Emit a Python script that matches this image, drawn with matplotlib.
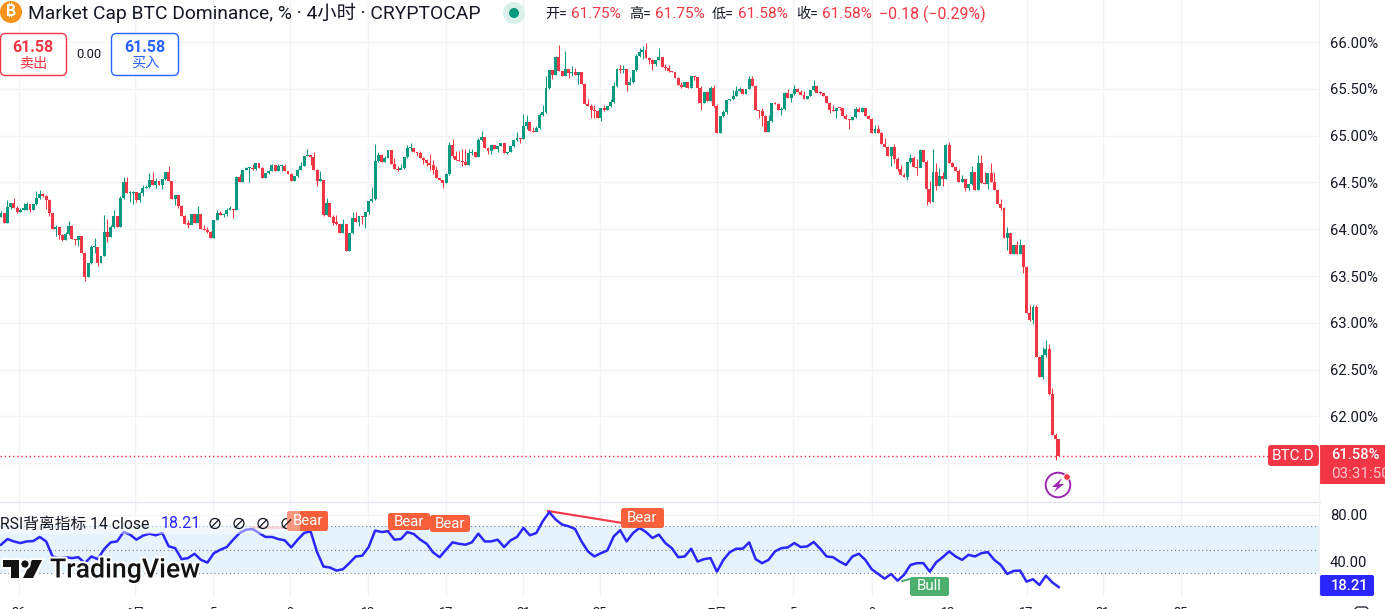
import matplotlib
matplotlib.use('Agg')
import matplotlib.pyplot as plt
from matplotlib.patches import Circle, FancyBboxPatch, Polygon, Rectangle
import matplotlib.patheffects as pe

plt.rcParams['font.family'] = ['Roboto', 'Noto Sans CJK SC', 'DejaVu Sans']

# candles, 4h. open of a candle = close of the one before
first_open = 64.13
closes = [
    64.17, 64.07, 64.24, 64.28, 64.23, 64.18, 64.21, 64.21, 64.27, 64.21, 64.27, 64.33, 64.38, 64.35, 64.31, 64.17,
    64.00, 64.02, 63.94, 63.88, 63.95, 64.03, 63.90, 63.88, 63.93, 63.75, 63.49, 63.64, 63.81, 63.81, 63.64, 63.71,
    63.97, 63.92, 64.02, 64.14, 64.02, 64.33, 64.50, 64.39, 64.39, 64.40, 64.31, 64.39, 64.44, 64.45, 64.53, 64.47,
    64.52, 64.47, 64.54, 64.61, 64.51, 64.32, 64.37, 64.25, 64.14, 64.06, 64.05, 64.16, 64.07, 64.16, 64.00, 63.99,
    63.97, 63.91, 64.10, 64.17, 64.15, 64.16, 64.21, 64.22, 64.20, 64.56, 64.50, 64.63, 64.65, 64.65, 64.64, 64.71,
    64.65, 64.55, 64.60, 64.62, 64.69, 64.62, 64.67, 64.68, 64.62, 64.59, 64.52, 64.57, 64.63, 64.68, 64.78, 64.79,
    64.77, 64.63, 64.52, 64.53, 64.15, 64.28, 64.13, 64.07, 64.06, 63.96, 64.06, 63.77, 63.96,
    64.12, 64.08, 64.14, 64.13, 64.18, 64.30, 64.32, 64.73, 64.79, 64.72, 64.76, 64.85, 64.70, 64.64, 64.63, 64.65,
    64.77, 64.87, 64.87, 64.82, 64.81, 64.76, 64.74, 64.71, 64.69, 64.63, 64.55, 64.53, 64.49, 64.59, 64.90, 64.78,
    64.74, 64.73, 64.72, 64.69, 64.81, 64.83, 64.77, 64.95, 64.98, 64.87, 64.84, 64.90, 64.86, 64.89, 64.92, 64.81,
    64.83, 64.89, 64.95, 64.97, 64.96, 65.10, 65.15, 65.05, 65.04, 65.08, 65.22, 65.25, 65.51, 65.70, 65.65, 65.84,
    65.69, 65.64, 65.71, 65.67, 65.68, 65.65, 65.68, 65.55, 65.34, 65.32, 65.27, 65.26, 65.19, 65.29, 65.27, 65.32,
    65.36, 65.53, 65.71, 65.70, 65.71, 65.54, 65.57, 65.70, 65.85, 65.89, 65.91, 65.83, 65.81, 65.76, 65.81, 65.84,
    65.73, 65.72, 65.69, 65.68, 65.62, 65.54, 65.52, 65.57, 65.51, 65.64, 65.63, 65.51,
    65.35, 65.47, 65.37, 65.51, 65.32, 65.03, 65.21, 65.25, 65.38, 65.39, 65.42, 65.48, 65.50, 65.44, 65.50, 65.60,
    65.53, 65.27, 65.26, 65.21, 65.04, 65.16, 65.35, 65.34, 65.27, 65.28, 65.45, 65.40, 65.44, 65.50, 65.47, 65.43,
    65.39, 65.42, 65.49, 65.53, 65.46, 65.45, 65.42, 65.35, 65.27, 65.26, 65.30, 65.29, 65.21, 65.18, 65.17, 65.20,
    65.28, 65.25, 65.30, 65.21, 65.18, 65.03, 65.07, 65.03, 64.91, 64.88, 64.78, 64.88, 64.75, 64.64, 64.58, 64.56,
    64.72, 64.76, 64.66, 64.65, 64.85, 64.72, 64.43, 64.29, 64.61, 64.46, 64.57, 64.54, 64.90, 64.71, 64.66, 64.62,
    64.50, 64.54, 64.44, 64.48, 64.61, 64.42, 64.71, 64.49, 64.48, 64.60, 64.50, 64.42, 64.27, 64.23,
    63.91, 63.96, 63.74, 63.83, 63.74, 63.83, 63.60, 63.10, 63.03, 63.17, 62.63, 62.42, 62.66, 62.72, 62.24, 61.80,
    61.76, 61.58,
]
highs = [
    64.19, 64.17, 64.31, 64.28, 64.33, 64.25, 64.23, 64.28, 64.29, 64.27, 64.27, 64.41, 64.42, 64.39, 64.37, 64.32,
    64.17, 64.05, 64.02, 63.95, 63.97, 64.09, 64.04, 63.90, 63.93, 63.93, 63.76, 63.64, 63.83, 63.91, 63.81, 63.71,
    64.15, 64.11, 64.05, 64.21, 64.14, 64.35, 64.56, 64.56, 64.41, 64.41, 64.39, 64.40, 64.47, 64.47, 64.60, 64.61,
    64.55, 64.52, 64.54, 64.61, 64.68, 64.52, 64.37, 64.37, 64.26, 64.15, 64.10, 64.16, 64.16, 64.25, 64.16, 64.05,
    64.02, 63.98, 64.10, 64.21, 64.19, 64.17, 64.23, 64.25, 64.22, 64.57, 64.59, 64.63, 64.66, 64.66, 64.70, 64.71,
    64.71, 64.66, 64.60, 64.63, 64.70, 64.69, 64.70, 64.70, 64.70, 64.62, 64.60, 64.57, 64.64, 64.72, 64.78, 64.86,
    64.79, 64.82, 64.64, 64.62, 64.53, 64.33, 64.28, 64.15, 64.15, 64.06, 64.11, 64.06, 63.96,
    64.18, 64.18, 64.14, 64.14, 64.18, 64.30, 64.45, 64.91, 64.83, 64.80, 64.78, 64.85, 64.85, 64.76, 64.67, 64.70,
    64.77, 64.90, 64.92, 64.87, 64.83, 64.84, 64.77, 64.75, 64.80, 64.74, 64.68, 64.55, 64.53, 64.60, 64.93, 64.96,
    64.84, 64.84, 64.86, 64.86, 64.86, 64.86, 64.83, 64.97, 65.05, 64.98, 64.88, 64.90, 64.90, 64.89, 64.92, 64.92,
    64.83, 64.89, 64.95, 65.04, 64.97, 65.23, 65.22, 65.15, 65.09, 65.10, 65.24, 65.33, 65.64, 65.70, 65.70, 65.85,
    65.97, 65.69, 65.90, 65.71, 65.74, 65.72, 65.68, 65.68, 65.56, 65.39, 65.34, 65.33, 65.27, 65.29, 65.33, 65.32,
    65.39, 65.57, 65.72, 65.75, 65.75, 65.71, 65.63, 65.70, 65.87, 65.94, 65.96, 65.99, 65.84, 65.82, 65.81, 65.94,
    65.84, 65.76, 65.75, 65.69, 65.68, 65.63, 65.57, 65.57, 65.57, 65.64, 65.64, 65.62,
    65.53, 65.47, 65.48, 65.53, 65.54, 65.34, 65.21, 65.27, 65.38, 65.39, 65.49, 65.53, 65.52, 65.50, 65.50, 65.64,
    65.64, 65.54, 65.27, 65.29, 65.22, 65.22, 65.35, 65.36, 65.35, 65.31, 65.47, 65.50, 65.44, 65.54, 65.51, 65.49,
    65.48, 65.42, 65.49, 65.59, 65.53, 65.48, 65.46, 65.42, 65.36, 65.33, 65.30, 65.30, 65.30, 65.23, 65.18, 65.20,
    65.31, 65.31, 65.31, 65.30, 65.22, 65.19, 65.11, 65.11, 65.04, 64.97, 64.89, 64.88, 64.91, 64.77, 64.69, 64.60,
    64.72, 64.80, 64.78, 64.75, 64.86, 64.85, 64.74, 64.52, 64.86, 64.71, 64.65, 64.61, 64.91, 64.93, 64.72, 64.68,
    64.64, 64.58, 64.54, 64.48, 64.68, 64.61, 64.79, 64.79, 64.61, 64.60, 64.71, 64.61, 64.43, 64.32,
    64.24, 64.02, 63.96, 63.83, 63.87, 63.89, 63.83, 63.61, 63.19, 63.19, 63.19, 62.65, 62.74, 62.82, 62.77, 62.30,
    61.82, 61.75,
]
lows = [
    64.13, 64.07, 64.07, 64.22, 64.23, 64.17, 64.18, 64.20, 64.20, 64.18, 64.21, 64.26, 64.32, 64.34, 64.22, 64.14,
    64.00, 63.93, 63.90, 63.87, 63.88, 63.94, 63.90, 63.83, 63.82, 63.75, 63.45, 63.49, 63.63, 63.75, 63.61, 63.64,
    63.71, 63.86, 63.92, 64.01, 64.02, 64.02, 64.32, 64.39, 64.29, 64.27, 64.29, 64.29, 64.36, 64.44, 64.44, 64.47,
    64.44, 64.47, 64.43, 64.53, 64.51, 64.32, 64.26, 64.23, 64.14, 64.06, 64.01, 64.06, 64.07, 64.08, 64.00, 63.99,
    63.96, 63.91, 63.91, 64.10, 64.15, 64.13, 64.14, 64.21, 64.12, 64.20, 64.50, 64.50, 64.63, 64.50, 64.63, 64.63,
    64.65, 64.55, 64.55, 64.59, 64.62, 64.62, 64.62, 64.62, 64.62, 64.59, 64.52, 64.51, 64.56, 64.63, 64.67, 64.78,
    64.69, 64.63, 64.46, 64.52, 64.14, 64.15, 64.13, 64.05, 64.05, 63.96, 63.96, 63.77, 63.77,
    63.95, 64.08, 64.03, 64.06, 64.01, 64.16, 64.29, 64.31, 64.72, 64.72, 64.72, 64.76, 64.70, 64.64, 64.62, 64.64,
    64.64, 64.76, 64.84, 64.82, 64.78, 64.76, 64.70, 64.68, 64.63, 64.59, 64.55, 64.53, 64.44, 64.49, 64.58, 64.76,
    64.74, 64.73, 64.68, 64.69, 64.69, 64.79, 64.77, 64.77, 64.94, 64.87, 64.80, 64.80, 64.86, 64.82, 64.89, 64.81,
    64.80, 64.82, 64.88, 64.94, 64.92, 64.96, 65.07, 65.05, 65.04, 65.05, 65.07, 65.21, 65.24, 65.50, 65.60, 65.65,
    65.69, 65.64, 65.64, 65.62, 65.64, 65.65, 65.55, 65.55, 65.34, 65.32, 65.19, 65.19, 65.19, 65.16, 65.26, 65.27,
    65.31, 65.35, 65.52, 65.67, 65.67, 65.48, 65.54, 65.56, 65.69, 65.84, 65.82, 65.83, 65.77, 65.70, 65.74, 65.81,
    65.73, 65.70, 65.68, 65.68, 65.62, 65.54, 65.51, 65.52, 65.51, 65.51, 65.59, 65.35,
    65.27, 65.35, 65.37, 65.37, 65.31, 65.03, 65.03, 65.20, 65.23, 65.37, 65.38, 65.42, 65.47, 65.44, 65.44, 65.50,
    65.53, 65.27, 65.19, 65.10, 65.04, 65.04, 65.15, 65.34, 65.27, 65.22, 65.27, 65.40, 65.36, 65.43, 65.47, 65.43,
    65.39, 65.39, 65.42, 65.48, 65.46, 65.44, 65.42, 65.35, 65.24, 65.26, 65.19, 65.27, 65.21, 65.18, 65.07, 65.17,
    65.19, 65.25, 65.25, 65.21, 65.18, 65.03, 65.03, 65.03, 64.91, 64.88, 64.78, 64.68, 64.71, 64.62, 64.58, 64.56,
    64.53, 64.71, 64.66, 64.58, 64.66, 64.72, 64.26, 64.28, 64.29, 64.42, 64.46, 64.46, 64.54, 64.71, 64.66, 64.62,
    64.50, 64.50, 64.41, 64.42, 64.47, 64.42, 64.42, 64.49, 64.48, 64.43, 64.50, 64.42, 64.27, 64.21,
    63.91, 63.78, 63.74, 63.74, 63.73, 63.74, 63.53, 63.10, 63.02, 62.99, 62.63, 62.42, 62.40, 62.63, 62.23, 61.80,
    61.53, 61.58,
]
# rsi, one value every 2 candles
rsi = [
    54.3, 59.1, 57.1, 55.7, 57.1, 57.4, 60.9, 57.1, 44.3, 42.9, 43.7, 42.9, 43.7, 38.6, 44.3, 42.0, 50.6, 56.3, 57.1, 65.1,
    62.9, 58.6, 62.0, 63.7, 62.3, 64.3, 52.9, 51.4, 42.0, 42.9, 46.6, 41.4, 39.1, 47.1, 50.0, 52.3, 58.6, 64.3, 67.1, 67.7,
    64.3, 60.9, 60.9, 59.1, 58.0, 52.0, 58.6, 64.3, 65.7, 48.0, 35.7, 34.9, 32.3, 33.4, 38.6,
    44.3, 44.9, 52.3, 66.3, 65.1, 65.7, 58.6, 59.1, 65.1, 63.4, 58.6, 55.1, 47.7, 43.7, 50.0, 56.3, 55.1, 54.3, 56.3, 63.7,
    57.1, 57.1, 58.6, 52.3, 58.0, 60.9, 68.6, 62.3, 64.3, 74.3, 82.0, 75.7, 71.4, 70.0, 67.7, 57.1, 48.6, 44.3, 47.1, 49.4,
    61.4, 66.6, 57.1, 64.3, 68.6, 65.1, 60.0, 62.9, 55.7, 51.4, 43.7, 44.3, 50.9, 40.0,
    42.0, 42.9, 31.4, 41.4, 48.0, 50.9, 50.9, 56.3, 42.0, 38.6, 41.4, 48.6, 51.4, 52.0, 55.7, 52.3, 52.9, 56.6, 50.9, 44.3,
    43.7, 40.0, 37.1, 44.3, 46.6, 41.4, 33.4, 29.4, 25.4, 29.4, 23.7, 28.6, 37.1, 38.6, 38.6, 31.4, 39.4, 43.7, 48.6, 44.3,
    41.4, 45.7, 44.3, 47.1, 48.0, 41.4, 37.1, 29.4, 32.0, 32.3, 22.9, 24.9, 20.0, 28.0, 22.2, 18.21,
]
rsi_step = 2

# dates on the time axis (bottom of the picture cuts them off)
date_idx = [5.6, 41.5, 65.7, 89.6, 113.8, 138, 161.9, 185.7, 222, 245.6, 270, 293.6, 318, 341.7, 365.9]
date_labels = ['26', '6月', '5', '9', '13', '17', '21', '25', '7月', '5', '9', '13', '17', '21', '25']
price_ticks = [61.5, 62, 62.5, 63, 63.5, 64, 64.5, 65, 65.5, 66]
rsi_ticks = [40, 80]

UP = '#089981'
DOWN = '#F23645'
GRID = '#F2F3F6'
BLUE = '#2B25FF'
TXT = '#131722'

W, H = 1385, 609
fig = plt.figure(figsize=(W/100, H/100), dpi=100, facecolor='white')

# candle index -> pixel : px = 1 + 3.225*i
sp = 3.225
xl = (-1/sp, (1320-1)/sp)

#-- main pane
ax = fig.add_axes([0, (H-502)/H, 1320/W, 502/H])
opens = [first_open] + closes[:-1]
x = list(range(len(closes)))
cols = [UP if c >= o else DOWN for o, c in zip(opens, closes)]
wicks = ax.vlines(x, lows, highs, colors=cols, lw=0.75, zorder=3)
wicks.set_snap(True)
ax.bar(x, [max(abs(c-o), 0.012) for o, c in zip(opens, closes)], bottom=[min(o, c) for o, c in zip(opens, closes)],
       width=0.9, color=cols, linewidth=0, zorder=4)
ax.axhline(closes[-1], color=DOWN, lw=1, ls=(0, (1, 2)), zorder=2)
ax.set_xlim(xl)
ax.set_ylim(66-460/93.6, 66+42/93.6)
# 61.50 sits behind the last price label
ax.set_yticks(price_ticks, ['' if t == 61.5 else '%.2f%%' % t for t in price_ticks])
ax.yaxis.tick_right()

#-- rsi pane
ax2 = fig.add_axes([0, (H-597)/H, 1320/W, 94/H])
ax2.axhspan(30, 70, color='#E5F3FD', lw=0, zorder=1)
for lev in [30, 50, 70]:
    ax2.axhline(lev, color='#787B86', lw=0.8, ls=(0, (1, 2.5)), zorder=2)
ax2.plot([i*rsi_step for i in range(len(rsi))], rsi, color=BLUE, lw=1.8, zorder=5, solid_joinstyle='round')
# divergences
ax2.plot([169.6, 192.2], [83, 73], color=DOWN, lw=1.5, zorder=4)
ax2.plot([78.1, 91], [69, 68.5], color='#F9A9AE', lw=1.5, zorder=4)
ax2.plot([119.5, 126.5], [66, 71], color=DOWN, lw=1, zorder=4)
ax2.plot([279.5, 282.5], [23.5, 25.5], color='#4CAF6E', lw=1.5, zorder=4)
ax2.set_xlim(xl)
ax2.set_ylim(9.8, 89.8)
ax2.set_yticks(rsi_ticks, ['%.2f' % t for t in rsi_ticks])
ax2.yaxis.tick_right()

for a in [ax, ax2]:
    a.set_xticks(date_idx)
    a.grid(True, color=GRID, lw=1, zorder=0)
    a.set_axisbelow(True)
    a.tick_params(axis='x', length=0, labelbottom=False)
    a.tick_params(axis='y', length=0, pad=7, labelsize=10.6, labelcolor=TXT)
    for s in a.spines.values():
        s.set_visible(False)
    a.patch.set_alpha(0)

#-- everything of the interface, drawn in pixels
ui = fig.add_axes([0, 0, 1, 1], zorder=10)
ui.set_xlim(0, W)
ui.set_ylim(H, 0)
ui.axis('off')


def txt(px, py, s, size=10.6, color=TXT, ha='left', **kw):
    return ui.text(px, py, s, fontsize=size, color=color, ha=ha, va='center', **kw)


def box(x0, y0, x1, y1, fc, ec='none', r=3, **kw):
    p = FancyBboxPatch((x0+r, y0+r), x1-x0-2*r, y1-y0-2*r, boxstyle='round,pad=%g,rounding_size=%g' % (r, r),
                       fc=fc, ec=ec, **kw)
    ui.add_patch(p)
    return p


ui.plot([0, 1320], [502, 502], color='#E0E3EB', lw=0.9)
ui.plot([1319, 1319], [0, 597], color='#F0F1F5', lw=0.8)

# header
ui.add_patch(Circle((11, 12), 11, fc='#F7931A', ec='none'))
txt(11, 12.5, '₿', size=11, color='white', ha='center', family=['Inter', 'Noto Sans', 'Open Sans', 'Lato', 'DejaVu Sans'], weight='bold')
txt(28, 13, 'Market Cap BTC Dominance, % · 4小时 · CRYPTOCAP', size=13.9)
ui.add_patch(Circle((514, 13), 11, fc='#D9F0EB', ec='none'))
ui.add_patch(Circle((514, 13), 5, fc=UP, ec='none'))
for lx, lab, vx, val in [(545, '开=', 571, '61.75%'), (629, '高=', 655, '61.75%'),
                         (712, '低=', 738, '61.58%'), (796, '收=', 822, '61.58%')]:
    txt(lx, 14, lab, size=10.2)
    txt(vx, 14, val, size=11.1, color=DOWN)
txt(879, 14, '−0.18 (−0.29%)', size=11.4, color=DOWN)

# sell / buy
box(0.5, 33.5, 66.5, 75.5, 'white', ec=DOWN, r=5, lw=1)
txt(33, 47, '61.58', size=11.5, color=DOWN, ha='center', weight='bold')
txt(33, 64, '卖出', size=10.2, color=DOWN, ha='center')
txt(89, 54, '0.00', size=9.4, ha='center')
box(111.5, 33.5, 178.5, 75.5, 'white', ec='#2962FF', r=5, lw=1)
txt(145, 47, '61.58', size=11.5, color='#2962FF', ha='center', weight='bold')
txt(145, 64, '买入', size=10.2, color='#2962FF', ha='center')

# axis labels past the pane and last price
txt(1330, -5, '66.50%', clip_on=False)
box(1268, 445, 1319, 466, DOWN, r=3)
txt(1293.5, 456, 'BTC.D', size=11, color='white', ha='center')
ui.add_patch(Rectangle((1320, 445), 65, 39, fc=DOWN, ec='none'))
txt(1331, 455, '61.58%', size=10.6, color='white', weight='medium')
txt(1331, 474, '03:31:50', size=11, color='#FBC5CA', clip_on=True)
box(1320, 575, 1374, 596, BLUE, r=2)
txt(1331, 586, '18.21', size=10.6, color='white', weight='medium')

# earnings style icon
ui.add_patch(Circle((1058, 485), 12.3, fc='white', ec='#9C27B0', lw=1.4))
ui.add_patch(Polygon([(1062, 478), (1052, 487), (1057, 487), (1054, 492), (1064, 484), (1059, 484)], fc='#9C27B0', ec='none'))
ui.add_patch(Circle((1067, 477), 3.2, fc=DOWN, ec='white', lw=0.5))

# rsi legend, sits above the line
ui.add_patch(Rectangle((0, 514), 300, 20, fc='white', alpha=0.45, ec='none'))
txt(0, 524, 'RSI背离指标 14 close', size=11.3)
txt(161, 524, '18.21', size=11.5, color=BLUE)
for px in [215, 239, 263, 287]:
    ui.add_patch(Circle((px, 523.5), 5, fc='none', ec=TXT, lw=0.9))
    ui.plot([px-3.7, px+3.7], [527.2, 519.8], color=TXT, lw=0.9)

# divergence labels
for x0, y0, x1, y1, s, c in [(287, 511, 328, 531, 'Bear', '#F7603A'), (388, 513, 430, 530, 'Bear', '#F7603A'),
                             (430, 515, 470, 532, 'Bear', '#F7603A'), (621, 508, 664, 528, 'Bear', '#F7603A'),
                             (910, 577, 949, 596, 'Bull', '#4CAF6E')]:
    box(x0, y0, x1, y1, c, r=2.5)
    txt((x0+x1)/2, (y0+y1)/2, s, size=10.8, color='white', ha='center')
ui.add_patch(Rectangle((287, 511), 13, 20, fc='white', alpha=0.35, ec='none'))

# logo
halo = [pe.withStroke(linewidth=3, foreground='white')]
for shape in [Polygon([(3, 560), (19, 560), (19, 578), (11, 578), (11, 567), (3, 567)], fc='#131313', ec='none'),
              Polygon([(42, 560), (32, 560), (23, 578), (33, 578)], fc='#131313', ec='none'),
              Circle((25, 564), 3.6, fc='#131313', ec='none')]:
    shape.set_path_effects(halo)
    ui.add_patch(shape)
txt(50, 570, 'TradingView', size=19.2, color='#131313', weight='medium', path_effects=halo)

# time axis
for i, lab in zip(date_idx, date_labels):
    txt(1+sp*i, 613, lab, size=9.2, ha='center', clip_on=False)
box(1355, 607, 1368, 620, 'white', ec=TXT, r=3, lw=0.9)

fig.savefig('out.png', dpi=100)
